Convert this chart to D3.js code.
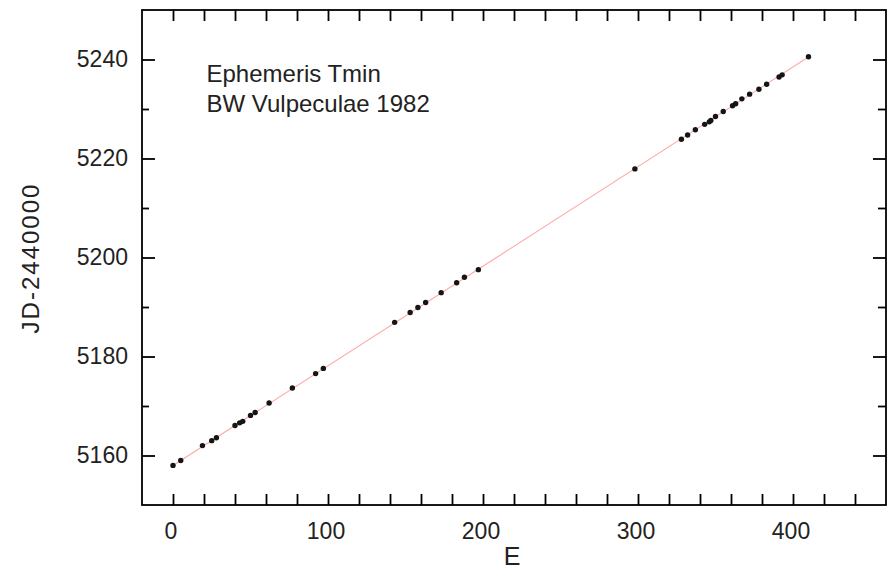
<!DOCTYPE html>
<html>
<head>
<meta charset="utf-8">
<script src="https://cdn.jsdelivr.net/npm/d3@7"></script>
<style>
  html, body { margin: 0; padding: 0; background: #fff; }
  svg { display: block; }
  text { font-family: "Liberation Sans", Arial, sans-serif; fill: #222; }
</style>
</head>
<body>
<svg id="chart" width="892" height="570"></svg>
<script>
// ---- data ----
const epochE = [0, 5, 19, 25, 28, 40, 43, 45, 50, 53, 62, 77, 92, 97,
  143, 153, 158, 163, 173, 183, 188, 197, 298, 328, 332, 337, 343, 346,
  347, 350, 355, 361, 363, 367, 372, 378, 383, 391, 393, 410];
const tminJD = [5158.0, 5159.0, 5162.0, 5163.0, 5163.6, 5166.05, 5166.6, 5166.9,
  5168.1, 5168.7, 5170.6, 5173.65, 5176.55, 5177.6, 5186.9, 5188.9, 5189.9,
  5190.9, 5192.9, 5194.9, 5196.0, 5197.55, 5217.9, 5223.9, 5224.75, 5225.8,
  5226.9, 5227.4, 5227.7, 5228.5, 5229.5, 5230.65, 5231.05, 5232.05, 5233.0,
  5234.0, 5235.0, 5236.45, 5236.9, 5240.55];
const fitE = [0, 410];
const fitJD = [5158.0, 5240.5];
const xTickLabels = [0, 100, 200, 300, 400];
const yTickLabels = [5160, 5180, 5200, 5220, 5240];
const titleLines = ["Ephemeris Tmin", "BW Vulpeculae 1982"];
const xTitle = "E";
const yTitle = "JD-2440000";

(function () {
// ---- layout ----
const L = 142, R = 886, T = 10, B = 505;
const svg = d3.select("#chart");
svg.append("rect").attr("width", 892).attr("height", 570).attr("fill", "#fff");

const x = d3.scaleLinear().domain([-20, 460]).range([L, R]);
const y = d3.scaleLinear().domain([5150, 5250]).range([B, T]);

// fit line
svg.append("path")
  .datum(fitE.map((e, i) => [e, fitJD[i]]))
  .attr("d", d3.line().x(d => x(d[0])).y(d => y(d[1])))
  .attr("fill", "none").attr("stroke", "#ffaaaa").attr("stroke-width", 1.2);

// points
svg.append("g").selectAll("circle")
  .data(epochE.map((e, i) => [e, tminJD[i]]))
  .join("circle")
  .attr("cx", d => x(d[0])).attr("cy", d => y(d[1]))
  .attr("r", 2.7).attr("fill", "#151515");

// axes with inward ticks
const xTicks = d3.range(0, 441, 20);
const yMajor = d3.range(5160, 5241, 20);
const yMinor = d3.range(5170, 5231, 20);
const sw = 1.8;

const gBottom = svg.append("g").attr("transform", `translate(0,${B})`)
  .call(d3.axisTop(x).tickValues(xTicks).tickSize(11).tickFormat(""));
const gTop = svg.append("g").attr("transform", `translate(0,${T})`)
  .call(d3.axisBottom(x).tickValues(xTicks).tickSize(11).tickFormat(""));
const gLeftMaj = svg.append("g").attr("transform", `translate(${L},0)`)
  .call(d3.axisRight(y).tickValues(yMajor).tickSize(13).tickFormat(""));
const gLeftMin = svg.append("g").attr("transform", `translate(${L},0)`)
  .call(d3.axisRight(y).tickValues(yMinor).tickSize(7).tickFormat(""));
const gRightMaj = svg.append("g").attr("transform", `translate(${R},0)`)
  .call(d3.axisLeft(y).tickValues(yMajor).tickSize(13).tickFormat(""));
const gRightMin = svg.append("g").attr("transform", `translate(${R},0)`)
  .call(d3.axisLeft(y).tickValues(yMinor).tickSize(8).tickFormat(""));
[gBottom, gTop, gLeftMaj, gLeftMin, gRightMaj, gRightMin].forEach(g => {
  g.select(".domain").remove();
  g.selectAll("line").attr("stroke", "#000").attr("stroke-width", sw);
});

// frame
svg.append("rect").attr("x", L).attr("y", T).attr("width", R - L).attr("height", B - T)
  .attr("fill", "none").attr("stroke", "#000").attr("stroke-width", sw);

// tick labels
svg.append("g").selectAll("text").data(xTickLabels).join("text")
  .attr("x", d => x(d) - 2).attr("y", 539)
  .attr("text-anchor", "middle").attr("font-size", 23).text(d => d);
svg.append("g").selectAll("text").data(yTickLabels).join("text")
  .attr("x", 128).attr("y", d => y(d) + 7)
  .attr("text-anchor", "end").attr("font-size", 23).text(d => d);

// axis titles
svg.append("text").attr("x", 512).attr("y", 565).attr("text-anchor", "middle")
  .attr("font-size", 25).text(xTitle);
svg.append("text").attr("transform", "translate(39,258) rotate(-90)")
  .attr("text-anchor", "middle").attr("font-size", 24).attr("letter-spacing", 2)
  .text(yTitle);

// annotation
svg.append("g").selectAll("text").data(titleLines).join("text")
  .attr("x", 206.5).attr("y", (d, i) => 82 + i * 29.5)
  .attr("font-size", 24).text(d => d);
})();
</script>
</body>
</html>
